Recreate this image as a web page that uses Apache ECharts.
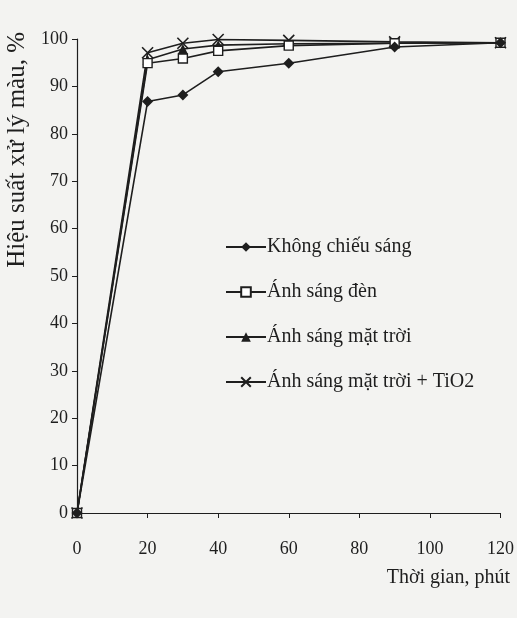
<!DOCTYPE html>
<html>
<head>
    <meta charset="utf-8">
    <title>Hiệu suất xử lý màu</title>
    <script src="https://cdn.jsdelivr.net/npm/echarts@6/dist/echarts.min.js"></script>
    <style>
        html, body { margin: 0; padding: 0; background: #f3f3f1; }
        #chart { width: 517px; height: 618px; }
    </style>
</head>
<body>
<div id="chart"></div>
<script>
    // thời gian (phút)
    var times = [0, 20, 30, 40, 60, 90, 120];
    var seriesNames = ['Không chiếu sáng', 'Ánh sáng đèn', 'Ánh sáng mặt trời', 'Ánh sáng mặt trời + TiO2'];
    // hiệu suất xử lý màu, %
    var khongChieuSang = [0, 86.8, 88.2, 93.1, 94.9, 98.3, 99.2];
    var anhSangDen = [0, 94.9, 95.9, 97.5, 98.6, 99.1, 99.2];
    var anhSangMatTroi = [0, 95.6, 97.9, 98.7, 99.0, 99.1, 99.2];
    var matTroiTiO2 = [0, 97.1, 99.1, 99.9, 99.7, 99.4, 99.2];

    function pairs(vals) {
        return times.map(function (t, i) { return [t, vals[i]]; });
    }

    var ink = '#1e1e1e';
    var font = '"Liberation Serif", "DejaVu Serif", serif';
    var crossPath = 'path://M0,0L10,10M10,0L0,10';

    var chart = echarts.init(document.getElementById('chart'));
    var baseLine = { color: ink, width: 1.6 };

    var option = {
        backgroundColor: '#f3f3f1',
        animation: false,
        textStyle: { fontFamily: font, color: ink },
        grid: { left: 77, right: 14, top: 39, bottom: 105 },
        legend: {
            orient: 'vertical',
            left: 220,
            top: 232,
            itemWidth: 40,
            itemHeight: 12,
            itemGap: 25,
            textStyle: { fontFamily: font, fontSize: 20, color: ink, padding: [0, 0, 0, -4] },
            data: seriesNames
        },
        xAxis: {
            type: 'value',
            min: 0,
            max: 120,
            interval: 20,
            axisLine: { lineStyle: { color: ink, width: 1.2 } },
            axisTick: { show: true, length: 5, lineStyle: { color: ink } },
            axisLabel: { fontFamily: font, fontSize: 18, color: ink, margin: 27 },
            splitLine: { show: false }
        },
        yAxis: {
            type: 'value',
            min: 0,
            max: 100,
            interval: 10,
            axisLine: { show: true, lineStyle: { color: ink, width: 1.2 } },
            axisTick: { show: true, length: 5, lineStyle: { color: ink } },
            axisLabel: { fontFamily: font, fontSize: 18, color: ink, margin: 9 },
            splitLine: { show: false }
        },
        graphic: [
            {
                type: 'text',
                left: 5,
                top: 32,
                rotation: Math.PI / 2,
                style: {
                    text: 'Hiệu suất xử lý màu, %',
                    font: '25px ' + font,
                    fill: ink
                }
            },
            {
                type: 'text',
                right: 7,
                top: 568,
                style: {
                    text: 'Thời gian, phút',
                    font: '20px ' + font,
                    fill: ink
                }
            }
        ],
        series: [
            {
                name: seriesNames[0],
                type: 'line',
                data: pairs(khongChieuSang),
                symbol: 'diamond',
                symbolSize: 11,
                itemStyle: { color: ink },
                lineStyle: baseLine,
                z: 4
            },
            {
                name: seriesNames[1],
                type: 'line',
                data: pairs(anhSangDen),
                symbol: 'rect',
                symbolSize: 9,
                itemStyle: { color: '#ffffff', borderColor: ink, borderWidth: 1.4 },
                lineStyle: baseLine,
                z: 3
            },
            {
                name: seriesNames[2],
                type: 'line',
                data: pairs(anhSangMatTroi),
                symbol: 'triangle',
                symbolSize: 10,
                itemStyle: { color: ink },
                lineStyle: baseLine,
                z: 2
            },
            {
                name: seriesNames[3],
                type: 'line',
                data: pairs(matTroiTiO2),
                symbol: crossPath,
                symbolSize: 11,
                itemStyle: { color: 'none', borderColor: ink, borderWidth: 1.6 },
                lineStyle: baseLine,
                z: 1
            }
        ]
    };
    chart.setOption(option);
</script>
</body>
</html>
